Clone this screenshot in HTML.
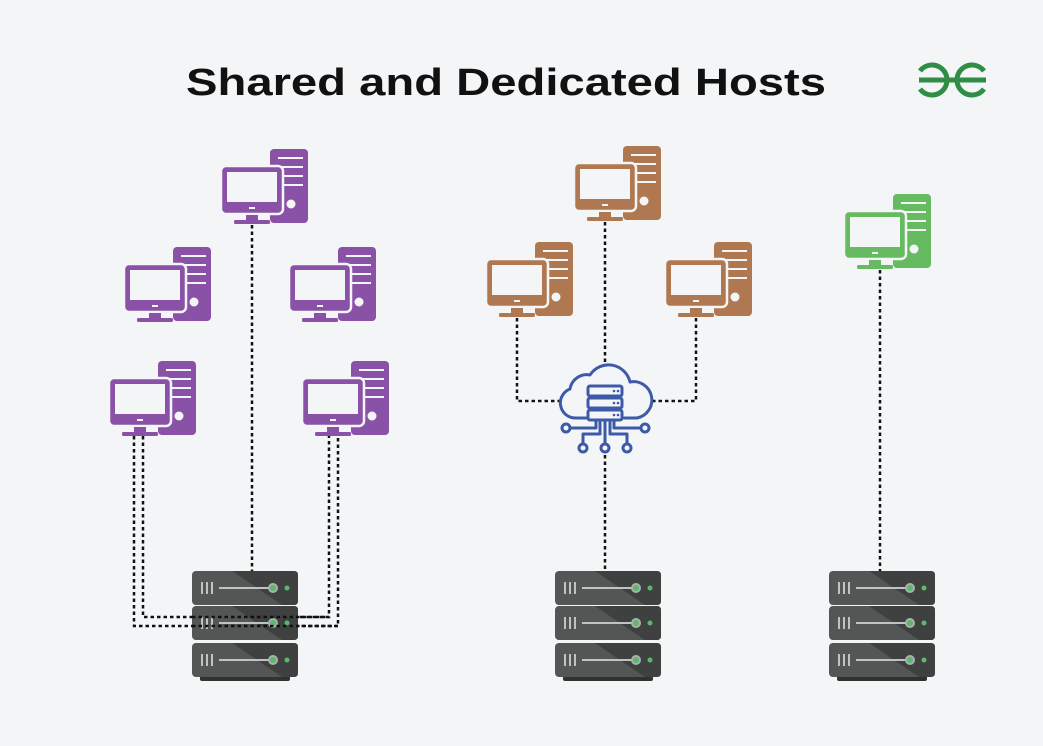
<!DOCTYPE html>
<html><head><meta charset="utf-8"><style>
html,body{margin:0;padding:0;background:#f3f5f7;}
svg{display:block}
</style></head><body>
<svg width="1043" height="746" viewBox="0 0 1043 746" xmlns="http://www.w3.org/2000/svg">
<defs>
<g id="pc">
  <rect x="49" y="0" width="38" height="74" rx="4"/>
  <g stroke="#f3f5f7" stroke-width="2" fill="none">
    <line x1="57" y1="9" x2="82" y2="9"/><line x1="57" y1="18" x2="82" y2="18"/>
    <line x1="57" y1="27" x2="82" y2="27"/><line x1="57" y1="36" x2="82" y2="36"/>
  </g>
  <circle cx="70" cy="55" r="4.5" fill="#f3f5f7"/>
  <rect x="0" y="17" width="62" height="48" rx="5" stroke="#f3f5f7" stroke-width="2.5"/>
  <rect x="6" y="23" width="50" height="30" fill="#f3f5f7"/>
  <rect x="28" y="58" width="6" height="2" fill="#f3f5f7"/>
  <rect x="25" y="66" width="12" height="6"/>
  <rect x="13" y="71" width="36" height="4" rx="1.5"/>
</g>
<g id="unit">
  <rect x="0" y="0" width="106" height="34" rx="4" fill="#545656"/>
  <path d="M40 0 L102 0 Q106 0 106 4 L106 30 Q106 34 102 34 L90 34 Z" fill="#3f4141"/>
  <g stroke="#bfc3c3" stroke-width="2"><line x1="10" y1="11" x2="10" y2="23"/><line x1="15" y1="11" x2="15" y2="23"/><line x1="20" y1="11" x2="20" y2="23"/></g>
  <line x1="27" y1="17" x2="78" y2="17" stroke="#bfc3c3" stroke-width="2"/>
  <circle cx="81" cy="17" r="5" fill="#aab0ad"/><circle cx="81" cy="17" r="3" fill="#5cb86a"/>
  <circle cx="95" cy="17" r="2.5" fill="#5cb86a"/>
</g>
<g id="srv">
  <use href="#unit" x="0" y="0"/>
  <use href="#unit" x="0" y="35"/>
  <rect x="8" y="103" width="90" height="7" rx="2" fill="#2f3232"/>
  <use href="#unit" x="0" y="72"/>
</g>
</defs>

<text x="506" y="95" text-anchor="middle" font-family="Liberation Sans, sans-serif" font-weight="bold" font-size="38" textLength="640" lengthAdjust="spacingAndGlyphs" fill="#111">Shared and Dedicated Hosts</text>

<g fill="none" stroke="#2f8d46" stroke-width="5">
  <path d="M919 80 L986 80"/>
  <path d="M920 71 A15 15 0 1 1 920 89"/>
  <path d="M984 71 A15 15 0 1 0 984 89"/>
</g>

<g stroke="#111" stroke-width="2.5" stroke-dasharray="3.5 3" fill="none">
  <line x1="252" y1="225" x2="252" y2="571"/>
  <polyline points="134,436 134,626 338,626 338,436"/>
  <polyline points="143,436 143,617 329,617 329,436"/>
  <line x1="605" y1="222" x2="605" y2="362"/>
  <line x1="605" y1="455" x2="605" y2="571"/>
  <polyline points="517,318 517,401 562,401"/>
  <polyline points="696,318 696,401 652,401"/>
  <line x1="880" y1="270" x2="880" y2="571"/>
</g>

<g fill="#8a52a6">
  <use href="#pc" x="221" y="149"/>
  <use href="#pc" x="124" y="247"/>
  <use href="#pc" x="289" y="247"/>
  <use href="#pc" x="109" y="361"/>
  <use href="#pc" x="302" y="361"/>
</g>
<g fill="#b07850">
  <use href="#pc" x="574" y="146"/>
  <use href="#pc" x="486" y="242"/>
  <use href="#pc" x="665" y="242"/>
</g>
<g fill="#66bb60"><use href="#pc" x="844" y="194"/></g>

<use href="#srv" x="192" y="571"/>
<use href="#srv" x="555" y="571"/>
<use href="#srv" x="829" y="571"/>

<!-- redraw dashed lines over left server -->
<g stroke="#111" stroke-width="2.5" stroke-dasharray="3.5 3" fill="none">
  <line x1="192" y1="626" x2="338" y2="626"/>
  <line x1="192" y1="617" x2="329" y2="617"/>
</g>

<g stroke="#3d5aa8" stroke-width="3" fill="none" stroke-linecap="round" stroke-linejoin="round">
  <path d="M586 418 L575 418 A15 15 0 0 1 570 389 A17 17 0 0 1 590 375 A22 22 0 0 1 630 382 A17 17 0 0 1 637 418 L624 418"/>
  <rect x="588" y="386" width="34" height="10" rx="2"/>
  <rect x="588" y="398" width="34" height="10" rx="2"/>
  <rect x="588" y="410" width="34" height="10" rx="2"/>
  <path d="M596 420 L596 428 L570 428"/>
  <path d="M614 420 L614 428 L641 428"/>
  <path d="M600 420 L600 434 L583 434 L583 444"/>
  <path d="M610 420 L610 434 L627 434 L627 444"/>
  <path d="M605 420 L605 444"/>
  <circle cx="566" cy="428" r="4"/><circle cx="645" cy="428" r="4"/>
  <circle cx="583" cy="448" r="4"/><circle cx="605" cy="448" r="4"/><circle cx="627" cy="448" r="4"/>
</g>
<g fill="#3d5aa8"><circle cx="614" cy="391" r="1.3"/><circle cx="618" cy="391" r="1.3"/><circle cx="614" cy="403" r="1.3"/><circle cx="618" cy="403" r="1.3"/><circle cx="614" cy="415" r="1.3"/><circle cx="618" cy="415" r="1.3"/></g>
</svg>
</body></html>
